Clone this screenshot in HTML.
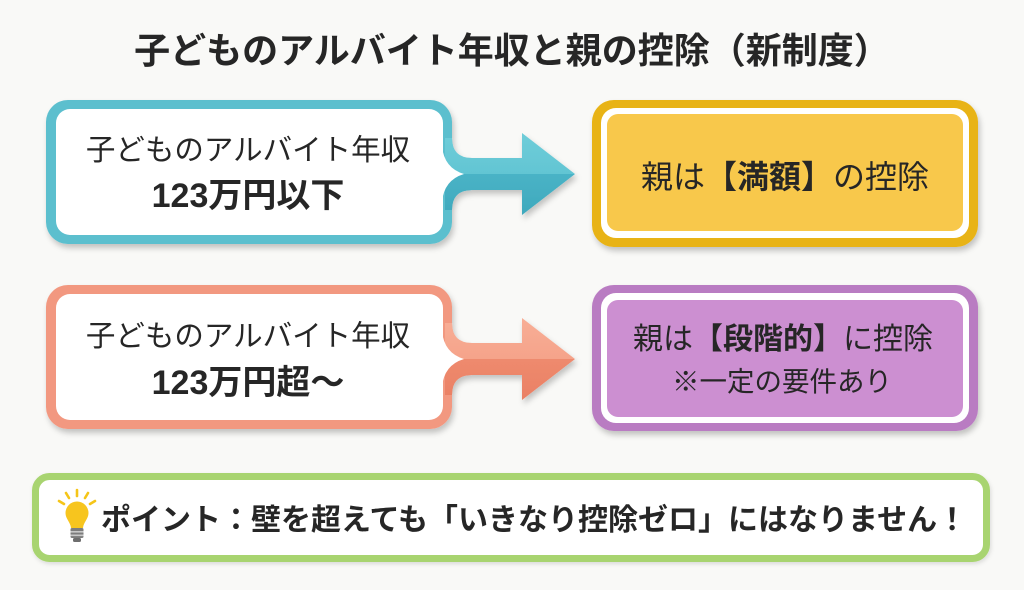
<!DOCTYPE html>
<html>
<head>
<meta charset="utf-8">
<style>
html,body{margin:0;padding:0;background:#f9f9f7;}
body{width:1024px;height:590px;overflow:hidden;}
svg{display:block;}
text{font-family:"Liberation Sans","Noto Sans CJK JP",sans-serif;fill:#262626;}
</style>
</head>
<body>
<svg width="1024" height="590" viewBox="0 0 1024 590" xmlns="http://www.w3.org/2000/svg">
  <defs>
    <filter id="sh" x="-10%" y="-10%" width="120%" height="130%">
      <feDropShadow dx="2" dy="4" stdDeviation="3" flood-color="#000" flood-opacity="0.22"/>
    </filter>
    <filter id="sh2" x="-5%" y="-10%" width="110%" height="130%">
      <feDropShadow dx="1" dy="2" stdDeviation="2" flood-color="#000" flood-opacity="0.12"/>
    </filter>
    <linearGradient id="tg" gradientUnits="userSpaceOnUse" x1="0" y1="133" x2="0" y2="215">
      <stop offset="0" stop-color="#6fcdd9"/>
      <stop offset="0.5" stop-color="#62c5d3"/>
      <stop offset="0.5" stop-color="#49b3c6"/>
      <stop offset="1" stop-color="#3fa9bd"/>
    </linearGradient>
    <linearGradient id="sg" gradientUnits="userSpaceOnUse" x1="0" y1="318" x2="0" y2="400">
      <stop offset="0" stop-color="#f8ae96"/>
      <stop offset="0.5" stop-color="#f5a38a"/>
      <stop offset="0.5" stop-color="#ee8a6e"/>
      <stop offset="1" stop-color="#ea8064"/>
    </linearGradient>
  </defs>

  <rect width="1024" height="590" fill="#f9f9f7"/>

  <!-- Title -->
  <text x="512" y="63" font-size="36" font-weight="700" text-anchor="middle">子どものアルバイト年収と親の控除（新制度）</text>

  <!-- Teal group -->
  <g filter="url(#sh)">
    <path d="M445,138 L452,138 Q452,158 472,158 L522,158 L522,133 L575,174 L522,215 L522,190 L472,190 Q452,190 452,210 L445,210 Z" fill="url(#tg)"/>
    <rect x="46" y="100" width="406" height="144" rx="22" fill="#5bbfce"/>
    <path d="M445,138 L452,138 Q452,158 472,158 L480,158 L480,190 L472,190 Q452,190 452,210 L445,210 Z" fill="url(#tg)"/>
    <rect x="56" y="109" width="387" height="126" rx="14" fill="#ffffff"/>
    <path d="M442,146 Q444,168 464,174 Q444,180 442,202 Z" fill="#ffffff"/>
  </g>
  <text x="248" y="160" font-size="29.5" text-anchor="middle">子どものアルバイト年収</text>
  <text x="248" y="207" font-size="34" font-weight="700" text-anchor="middle">123万円以下</text>

  <!-- Yellow box -->
  <g filter="url(#sh)">
    <rect x="592" y="100" width="386" height="147" rx="22" fill="#e8b312"/>
    <rect x="601" y="108" width="368" height="130" rx="15" fill="#ffffff"/>
    <rect x="607" y="114" width="356" height="117" rx="11" fill="#f8c84b"/>
  </g>
  <text x="785" y="188" font-size="32" text-anchor="middle">親は<tspan font-weight="700">【満額】</tspan>の控除</text>

  <!-- Salmon group -->
  <g filter="url(#sh)">
    <path d="M445,323 L452,323 Q452,343 472,343 L522,343 L522,318 L575,359 L522,400 L522,375 L472,375 Q452,375 452,395 L445,395 Z" fill="url(#sg)"/>
    <rect x="46" y="285" width="406" height="144" rx="22" fill="#f29880"/>
    <path d="M445,323 L452,323 Q452,343 472,343 L480,343 L480,375 L472,375 Q452,375 452,395 L445,395 Z" fill="url(#sg)"/>
    <rect x="56" y="294" width="387" height="126" rx="14" fill="#ffffff"/>
    <path d="M442,331 Q444,353 464,359 Q444,365 442,387 Z" fill="#ffffff"/>
  </g>
  <text x="248" y="346" font-size="29.5" text-anchor="middle">子どものアルバイト年収</text>
  <text x="248" y="394" font-size="34" font-weight="700" text-anchor="middle">123万円超〜</text>

  <!-- Purple box -->
  <g filter="url(#sh)">
    <rect x="592" y="285" width="386" height="146" rx="22" fill="#b97bc2"/>
    <rect x="601" y="293" width="368" height="130" rx="15" fill="#ffffff"/>
    <rect x="607" y="300" width="356" height="117" rx="11" fill="#cc8fd1"/>
  </g>
  <text x="783" y="349" font-size="30" text-anchor="middle">親は<tspan font-weight="700">【段階的】</tspan>に控除</text>
  <text x="782" y="391" font-size="27.5" text-anchor="middle">※一定の要件あり</text>

  <!-- Bottom green box -->
  <g filter="url(#sh2)">
    <rect x="35.5" y="476.5" width="951" height="82" rx="14" fill="#ffffff" stroke="#a8d46f" stroke-width="7"/>
  </g>

  <!-- Lightbulb -->
  <g>
    <g stroke="#f5c518" stroke-width="2.6" stroke-linecap="round">
      <line x1="77" y1="490" x2="77" y2="496"/>
      <line x1="66" y1="493" x2="69" y2="498"/>
      <line x1="88" y1="493" x2="85" y2="498"/>
      <line x1="59" y1="501" x2="64" y2="504"/>
      <line x1="95" y1="501" x2="90" y2="504"/>
    </g>
    <path d="M65.5,513 A11.5,11.5 0 1 1 88.5,513 C88.5,519 83.5,522 83,528 L71,528 C70.5,522 65.5,519 65.5,513 Z" fill="#f7c51e"/>
    <rect x="70.5" y="528" width="13" height="10" rx="1.5" fill="#7d7d7d"/>
    <rect x="70.5" y="531" width="13" height="1.6" fill="#c9c9c9"/>
    <rect x="70.5" y="534.5" width="13" height="1.6" fill="#c9c9c9"/>
    <rect x="73" y="538" width="8" height="4" rx="1.5" fill="#6e6e6e"/>
  </g>
  <text x="101" y="530" font-size="30" font-weight="700">ポイント：壁を超えても「いきなり控除ゼロ」にはなりません！</text>
</svg>
</body>
</html>
